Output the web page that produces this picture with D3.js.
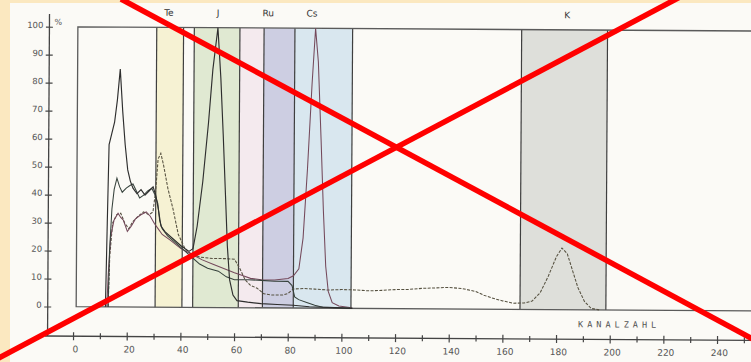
<!DOCTYPE html>
<html><head><meta charset="utf-8">
<script src="https://cdn.jsdelivr.net/npm/d3@7"></script>
<style>html,body{margin:0;padding:0;background:#fbe8c0;} svg{display:block}</style>
</head><body><svg id="c" width="751" height="362"></svg>
<script>
// ---------- data ----------
const xTickValues = d3.range(0, 251, 10);
const xLabelValues = [0,20,40,60,80,100,120,140,160,180,200,220,240];
const yTickValues = [0,10,20,30,40,50,60,70,80,90,100];

const bandStart   = [30.5, 44.5, 61.5, 70.5, 82, 166.5];
const bandEnd     = [40.5, 61.5, 70.5, 82, 103.5, 198.5];
const bandLabelAt = [35, 53.3, 72, 88.3, 183.4];
const bandLabelNames = ["Te","J","Ru","Cs","K"];
const bandBorders = [30.5, 40.5, 44.5, 61.5, 70.5, 82, 103.5, 166.5, 198.5];

// spectrum A (solid, J peak)
const seriesA = [[12,0],[12.5,30],[13,58],[14,62],[15,66],[16,74],[17,85],[18,70],[19,58],[20,49],[21,45],[22,42.5],[23.5,40.5],[25,42],[26.5,40],[28,41.5],[29.5,43],[30.5,40],[31.5,35],[32.5,29],[34,27],[37,24.5],[40,22],[43,20],[44.5,21],[46,29],[48,45],[50,66],[51.5,85],[53.3,100],[54.5,82],[55.5,62],[56.5,40],[57.3,22],[58.2,10],[59.5,4.5],[61,2.5],[65,2],[70,1.5],[76,1.2],[82,1],[88,0.5],[95,0.3],[104,0]];
// spectrum B (solid, middle)
const seriesB = [[13,0],[13.4,20],[14.2,35],[15,42],[16,46],[17,43],[18,41],[19.5,42.5],[21,43.5],[22,44],[23,42],[24.5,39],[26,40],[27.5,41.5],[29,42.5],[30.3,40],[31.3,37],[32,31],[33,28],[35,25.5],[38,23],[41,20.5],[44,18],[47,15.5],[50,14],[54,13],[57,11],[60,10],[65,10],[70,9.8],[75,9.5],[80,9.5],[81.5,8],[82.5,4],[84,3],[87,2],[90,1],[93,0.3],[100,0.2],[104,0]];
// spectrum C (Cs peak)
const seriesC = [[12.5,0],[13,12],[13.8,25],[15,31],[16.5,33.5],[17.5,32],[18.5,31],[20,27],[21.5,29],[23,31.5],[25,33],[27,34],[28.5,32.5],[30,30],[31.5,28],[33,26],[36,24],[40,21],[44,19],[48,17],[52,15.5],[56,14],[60,12.5],[63,11.5],[66,10.5],[70,10],[75,10],[80,10.5],[82,11.5],[84,14],[85.5,25],[87,50],[88.5,80],[89.7,100],[90.8,88],[92,60],[93,35],[94,15],[95,6],[96.5,2],[99,0.8],[103,0.3],[104,0]];
// spectrum D (dashed, Te and K peaks)
const seriesD = [[13,0],[13.5,18],[14.5,30],[16,33],[17.5,33.5],[19,30],[20.5,28],[22,30.5],[24,32.5],[26,34],[28,33],[29.5,34],[30.5,42],[31.3,53],[32.3,55],[33.3,51],[35,42.5],[37,35],[39,26],[41.5,21],[44,19],[47,18],[52,17.5],[57,17.5],[60,17.3],[62,14],[64,10],[66,8],[68.5,7],[71,5],[74,4.6],[78,4.6],[80,5.2],[82,6.8],[86,7],[90,6.8],[95,6.5],[100,6.7],[105,6.6],[110,6.3],[115,6.5],[120,6.8],[125,6.9],[130,7.3],[135,7.5],[140,7.7],[145,7.3],[150,6.3],[153,5],[156,4],[160,3],[164,2.2],[168,2.3],[171,3],[174,6],[177,12],[180,19],[182,22],[184,20],[186,14],[188,8],[190.5,3],[193,0.5],[196,0]];

// ---------- drawing ----------
const svg = d3.select("#c");
svg.append("rect").attr("width",751).attr("height",362).attr("fill","#fbe8c0");
svg.append("rect").attr("x",10).attr("y",3).attr("width",741).attr("height",359).attr("fill","#fbfaf6");

const x = d3.scaleLinear().domain([0,240]).range([74,718]);
const y = d3.scaleLinear().domain([0,100]).range([308.5,28.7]);

const g = svg.append("g").attr("transform","rotate(0.35,375,180)");

const bandFill = ["#f6f2d3","#e0e9d2","#f4eaee","#cdcee2","#d9e7ef","#dedfda"];
g.selectAll("rect.band").data(bandStart).join("rect")
  .attr("x", d=>x(d)).attr("width",(d,i)=>x(bandEnd[i])-x(d))
  .attr("y", y(100)).attr("height", y(0)-y(100))
  .attr("fill",(d,i)=>bandFill[i]);

g.selectAll("line.bb").data(bandBorders).join("line")
  .attr("x1",d=>x(d)).attr("x2",d=>x(d)).attr("y1",y(100)).attr("y2",y(0))
  .attr("stroke","#3f3f3f").attr("stroke-width",1.2);

// frame
g.append("path").attr("d",`M${x(265)},${y(100)}H${x(1.1)}V${y(0)}H${x(265)}`)
  .attr("fill","none").attr("stroke","#5a5a5a").attr("stroke-width",1.3);

const line = d3.line().x(d=>x(d[0])).y(d=>y(d[1]));
g.append("path").datum(seriesD).attr("d",line).attr("fill","none")
  .attr("stroke","#55503f").attr("stroke-width",1.05).attr("stroke-dasharray","3,1.4");
g.append("path").datum(seriesC).attr("d",line).attr("fill","none")
  .attr("stroke","#74495b").attr("stroke-width",1.05);
g.append("path").datum(seriesB).attr("d",line).attr("fill","none")
  .attr("stroke","#36423c").attr("stroke-width",1.05);
g.append("path").datum(seriesA).attr("d",line).attr("fill","none")
  .attr("stroke","#2e2e2e").attr("stroke-width",1.15);

// band labels
g.selectAll("text.bl").data(bandLabelAt).join("text")
  .attr("x",d=>x(d)).attr("y",17).attr("text-anchor","middle")
  .attr("font-family","DejaVu Sans, sans-serif").attr("font-size",9)
  .attr("fill","#333").text((d,i)=>bandLabelNames[i]);

// x axis
const axisY = 338;
g.append("line").attr("x1",46).attr("x2",760).attr("y1",axisY).attr("y2",axisY)
  .attr("stroke","#444").attr("stroke-width",1.3);
const xa = g.append("g").attr("transform",`translate(0,${axisY})`)
  .call(d3.axisBottom(x).tickValues(xTickValues).tickSize(0)
    .tickFormat(d=> xLabelValues.includes(d) ? String(d) : ""));
xa.select(".domain").remove();
xa.selectAll(".tick line").attr("y1",d=> xLabelValues.includes(d)? -4 : -3)
  .attr("y2",d=> xLabelValues.includes(d)? 4 : 3).attr("stroke","#444").attr("stroke-width",1.2);
xa.selectAll(".tick text").attr("dy",0).attr("y",16).attr("dx",2)
  .attr("font-family","DejaVu Sans, sans-serif").attr("font-size",9).attr("fill","#555");

// y axis
const axisX = 48.5;
g.append("line").attr("x1",axisX).attr("x2",axisX).attr("y1",16).attr("y2",axisY)
  .attr("stroke","#444").attr("stroke-width",1.3);
const ya = g.append("g").attr("transform",`translate(${axisX},0)`)
  .call(d3.axisLeft(y).tickValues(yTickValues).tickSize(0).tickFormat(d=>String(d)));
ya.select(".domain").remove();
ya.selectAll(".tick line").attr("x1",-3.5).attr("x2",3.5).attr("stroke","#444").attr("stroke-width",1.2);
ya.selectAll(".tick text").attr("x",-6).attr("dy","0.1em")
  .attr("font-family","DejaVu Sans, sans-serif").attr("font-size",8.5).attr("fill","#555");
g.append("text").attr("x",axisX+5).attr("y",y(100)-2).attr("font-family","DejaVu Sans, sans-serif")
  .attr("font-size",8).attr("fill","#555").text("%");

g.append("text").attr("x",620).attr("y",326).attr("text-anchor","middle")
  .attr("font-family","DejaVu Sans Mono, monospace").attr("font-size",8.5).attr("letter-spacing",4)
  .attr("fill","#555").text("KANALZAHL");

// red cross overlay
svg.append("line").attr("x1",121).attr("y1",-1).attr("x2",760).attr("y2",343)
  .attr("stroke","#ff0000").attr("stroke-width",5.5);
svg.append("line").attr("x1",-5).attr("y1",360).attr("x2",680).attr("y2",-3)
  .attr("stroke","#ff0000").attr("stroke-width",5.5);
</script></body></html>
